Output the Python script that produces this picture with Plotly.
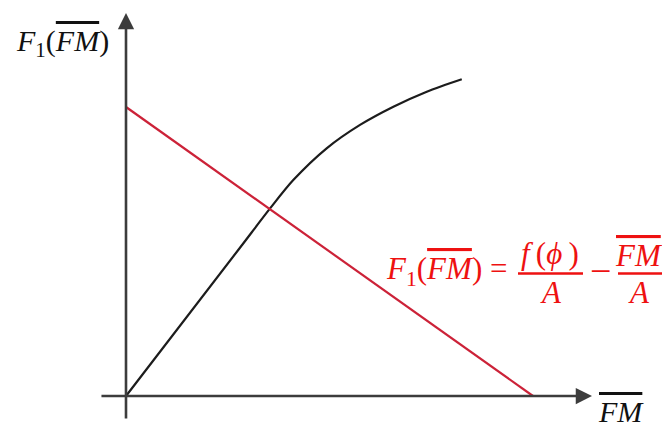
import plotly.graph_objects as go

W, H = 662, 428

# Black response curve F1(FM): straight rise, then bending over
fm_curve = [0.0, 2.80, 3.54, 4.11, 4.93, 5.75, 6.57, 7.39, 8.25]
f1_curve = [0.0, 5.13, 6.49, 7.47, 8.57, 9.38, 10.01, 10.53, 10.96]

# Red straight line F1(FM) = f(phi)/A - FM/A  (intercepts at 10 on both axes)
fm_line = [0.0, 10.0]
f1_line = [10.0, 0.0]

# Axis extents (data units) for the drawn arrows
x_axis_from, x_axis_to = -0.64, 11.45
y_axis_from, y_axis_to = -0.83, 13.25

X_RANGE = [-3.096, 13.170]
Y_RANGE = [-1.107, 13.702]

AXIS_COLOR = "#3c3c3c"
CURVE_COLOR = "#1c1c1c"
LINE_RED = "#cc2238"
TEXT_RED = "#ee1111"
FONT = "Liberation Serif"
OVL = "<span style='text-decoration:overline'><i>FM</i></span>"


def px(x):
    return x / W


def py(y):
    return 1 - y / H


fig = go.Figure()

fig.add_trace(go.Scatter(
    x=fm_curve, y=f1_curve, mode="lines",
    line=dict(color=CURVE_COLOR, width=2.2, shape="spline", smoothing=0.8),
    hoverinfo="skip", showlegend=False,
))
fig.add_trace(go.Scatter(
    x=fm_line, y=f1_line, mode="lines",
    line=dict(color=LINE_RED, width=2.2),
    hoverinfo="skip", showlegend=False,
))

annotations = []
# axes drawn as arrows
annotations.append(dict(
    x=x_axis_to, y=0, ax=x_axis_from, ay=0, xref="x", yref="y", axref="x", ayref="y",
    text="", showarrow=True, arrowhead=2, arrowsize=1.25, arrowwidth=2.6, arrowcolor=AXIS_COLOR,
))
annotations.append(dict(
    x=0, y=y_axis_to, ax=0, ay=y_axis_from, xref="x", yref="y", axref="x", ayref="y",
    text="", showarrow=True, arrowhead=2, arrowsize=1.25, arrowwidth=2.6, arrowcolor=AXIS_COLOR,
))

# axis titles
black_font = dict(family=FONT, size=30, color="#111111")
annotations.append(dict(
    x=px(14), y=py(43), xref="paper", yref="paper", xanchor="left", yanchor="middle",
    text="<i>F</i><sub>1</sub>(" + OVL + ")", showarrow=False, font=black_font,
))
annotations.append(dict(
    x=px(596), y=py(411), xref="paper", yref="paper", xanchor="left", yanchor="middle",
    text=OVL, showarrow=False, font=black_font,
))

# equation of the red line
red_font = dict(family=FONT, size=31, color=TEXT_RED)
annotations.append(dict(
    x=px(384), y=py(271), xref="paper", yref="paper", xanchor="left", yanchor="middle",
    text="<i>F</i><sub>1</sub>(" + OVL + ") =", showarrow=False, font=red_font,
))
annotations.append(dict(
    x=px(550), y=py(253), xref="paper", yref="paper", xanchor="center", yanchor="middle",
    text="<i>f</i>\u2009(<i>\u03d5</i>\u2009)", showarrow=False, font=red_font,
))
annotations.append(dict(
    x=px(551), y=py(292), xref="paper", yref="paper", xanchor="center", yanchor="middle",
    text="<i>A</i>", showarrow=False, font=red_font,
))
annotations.append(dict(
    x=px(600), y=py(271), xref="paper", yref="paper", xanchor="center", yanchor="middle",
    text="\u2212", showarrow=False, font=dict(family=FONT, size=38, color=TEXT_RED),
))
annotations.append(dict(
    x=px(639), y=py(255), xref="paper", yref="paper", xanchor="center", yanchor="middle",
    text=OVL, showarrow=False, font=red_font,
))
annotations.append(dict(
    x=px(639), y=py(292), xref="paper", yref="paper", xanchor="center", yanchor="middle",
    text="<i>A</i>", showarrow=False, font=red_font,
))

shapes = [
    dict(type="line", xref="paper", yref="paper", x0=px(518), x1=px(583), y0=py(273.5), y1=py(273.5),
         line=dict(color=TEXT_RED, width=2.6)),
    dict(type="line", xref="paper", yref="paper", x0=px(618), x1=px(662), y0=py(273.5), y1=py(273.5),
         line=dict(color=TEXT_RED, width=2.6)),
]

fig.update_layout(
    width=W, height=H,
    margin=dict(l=0, r=0, t=0, b=0),
    paper_bgcolor="white", plot_bgcolor="white",
    xaxis=dict(range=X_RANGE, visible=False, fixedrange=True),
    yaxis=dict(range=Y_RANGE, visible=False, fixedrange=True),
    annotations=annotations, shapes=shapes,
    showlegend=False,
)

fig.write_html("out.html", config={"displayModeBar": False})
